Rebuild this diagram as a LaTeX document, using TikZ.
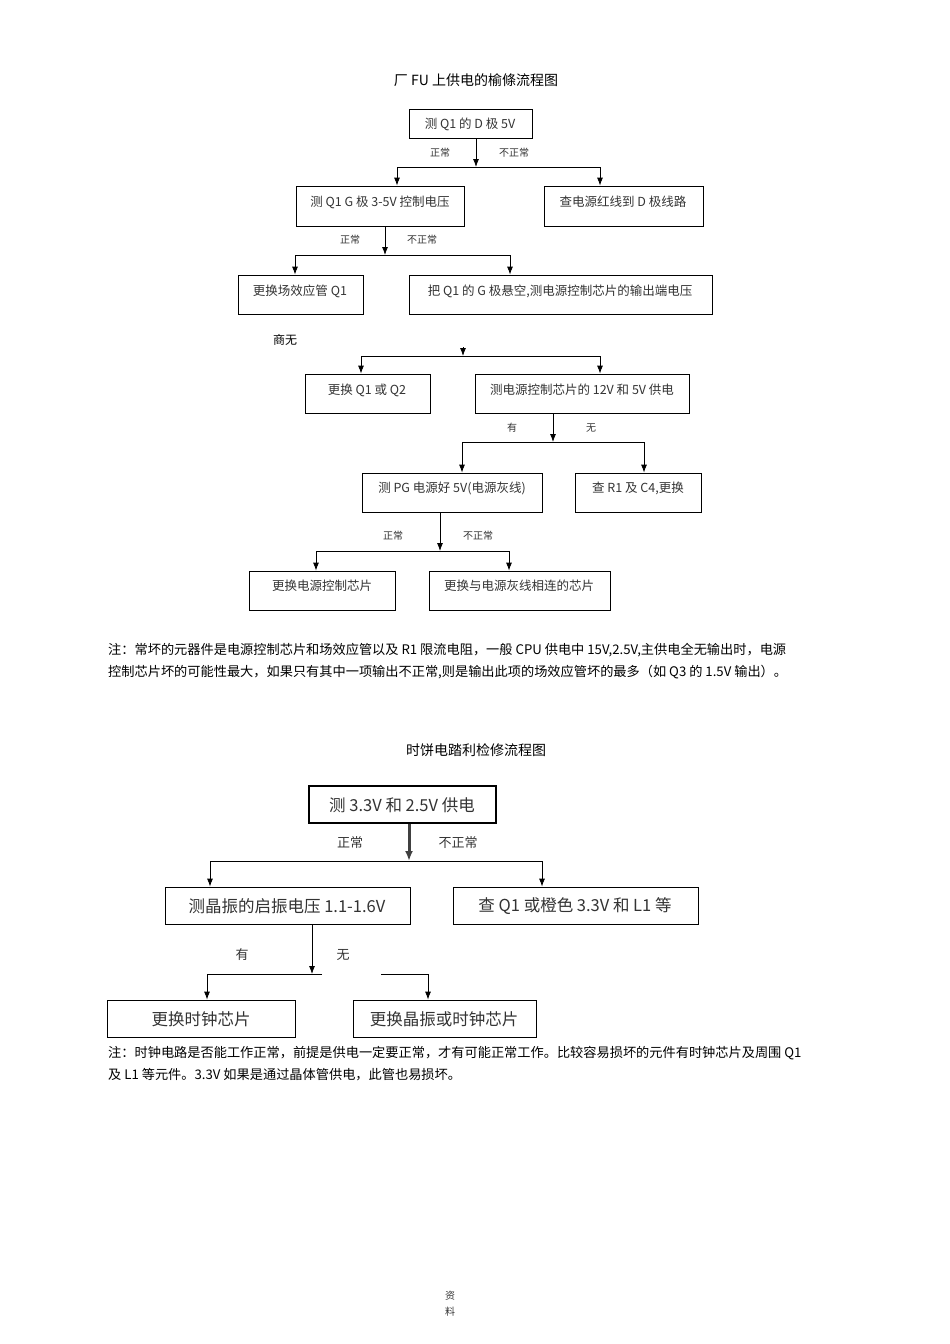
\documentclass[tikz,border=0pt]{standalone}
\usepackage{fontspec}
\usetikzlibrary{arrows.meta}
\setmainfont{Liberation Serif}
\newfontfamily\cjk{Noto Sans CJK SC}
\begin{document}
\begin{tikzpicture}[x=1pt,y=-1pt,
 bx/.style={draw,line width=0.8pt,inner sep=0pt,font=\cjk\fontsize{12.5}{12.5}\selectfont\color{black!80}},
 bxb/.style={draw,line width=1.2pt,inner sep=0pt,font=\cjk\fontsize{16.5}{16.5}\selectfont\color{black!80}},
 lab/.style={font=\cjk\fontsize{10}{10}\selectfont\color{black!80}},
 labb/.style={font=\cjk\fontsize{13}{13}\selectfont\color{black!80}},
 ar/.style={-{Latex[length=8pt,width=6pt]},line width=0.8pt},
 note/.style={anchor=west,font=\cjk\fontsize{13.2}{13.2}\selectfont,inner sep=0pt}]
\useasboundingbox (0,0) rectangle (950,1344);
\newcommand{\bxn}[6]{\node[#1,minimum width=#4-#3,minimum height=#6-#5] (#2) at ({(#3+#4)/2},{(#5+#6)/2}) {};}
% top chart
\node[font=\cjk\fontsize{14}{14}\selectfont] (t1) at (476,80) {厂 FU 上供电的榆條流程图};
\bxn{bx}{b1}{409}{532}{109}{138} \node[bx,draw=none] at (470,124) {测 Q1 的 D 极 5V};
\bxn{bx}{b2}{296}{464}{186}{226} \node[bx,draw=none] at (380,202) {测 Q1 G 极 3-5V 控制电压};
\bxn{bx}{b3}{544}{703}{186}{226} \node[bx,draw=none] at (623,202) {查电源红线到 D 极线路};
\bxn{bx}{b4}{238}{363}{275}{314} \node[bx,draw=none] at (300,291) {更换场效应管 Q1};
\bxn{bx}{b5}{409}{712}{275}{314} \node[bx,draw=none] at (560,291) {把 Q1 的 G 极悬空,测电源控制芯片的输出端电压};
\node[lab,font=\cjk\fontsize{12}{12}\selectfont] (sw) at (285,340) {商无};
\bxn{bx}{b6}{305}{430}{374}{413} \node[bx,draw=none] at (367,390) {更换 Q1 或 Q2};
\bxn{bx}{b7}{475}{689}{374}{413} \node[bx,draw=none] at (582,390) {测电源控制芯片的 12V 和 5V 供电};
\bxn{bx}{b8}{362}{542}{473}{512} \node[bx,draw=none] at (452,488) {测 PG 电源好 5V(电源灰线)};
\bxn{bx}{b9}{575}{701}{473}{512} \node[bx,draw=none] at (638,488) {查 R1 及 C4,更换};
\bxn{bx}{b10}{249}{395}{571}{610} \node[bx,draw=none] at (322,586) {更换电源控制芯片};
\bxn{bx}{b11}{429}{610}{571}{610} \node[bx,draw=none] at (519,586) {更换与电源灰线相连的芯片};
% connectors top
\coordinate (j1) at (476,167);
\draw[ar] (b1.south -| j1) -- (j1);
\draw[ar] (j1) -- (397,167) -- (397,167 |- b2.north);
\draw[ar] (j1) -- (600,167) -- (600,167 |- b3.north);
\node[lab] at (440,153) {正常}; \node[lab] at (514,153) {不正常};
\coordinate (j2) at (385,255);
\draw[ar] (b2.south -| j2) -- (j2);
\draw[ar] (j2) -- (295,255) -- (295,255 |- b4.north);
\draw[ar] (j2) -- (510,255) -- (510,255 |- b5.north);
\node[lab] at (350,240) {正常}; \node[lab] at (422,240) {不正常};
\coordinate (j3) at (463,356);
\draw[ar] (463,347) -- (j3);
\draw[ar] (j3) -- (361,356) -- (361,356 |- b6.north);
\draw[ar] (j3) -- (600,356) -- (600,356 |- b7.north);
\coordinate (j4) at (553,442);
\draw[ar] (b7.south -| j4) -- (j4);
\draw[ar] (j4) -- (462,442) -- (462,442 |- b8.north);
\draw[ar] (j4) -- (644,442) -- (644,442 |- b9.north);
\node[lab] at (512,428) {有}; \node[lab] at (591,428) {无};
\coordinate (j5) at (440,551);
\draw[ar] (b8.south -| j5) -- (j5);
\draw[ar] (j5) -- (316,551) -- (316,551 |- b10.north);
\draw[ar] (j5) -- (509,551) -- (509,551 |- b11.north);
\node[lab] at (393,536) {正常}; \node[lab] at (478,536) {不正常};
\node[note] (n1) at (108,650) {注：常坏的元器件是电源控制芯片和场效应管以及 R1 限流电阻，一般 CPU 供电中 15V,2.5V,主供电全无输出时，电源};
\node[note] (n2) at (108,672) {控制芯片坏的可能性最大，如果只有其中一项输出不正常,则是输出此项的场效应管坏的最多（如 Q3 的 1.5V 输出）。};
% bottom chart
\node[font=\cjk\fontsize{14}{14}\selectfont] (t2) at (476,750) {时饼电踏利检修流程图};
\bxn{bxb}{c1}{309}{496}{786}{823} \node[bxb,draw=none] at (402,805) {测 3.3V 和 2.5V 供电};
\bxn{bx}{c2}{165}{410}{887}{924} \node[bxb,draw=none] at (287,906) {测晶振的启振电压 1.1-1.6V};
\bxn{bx}{c3}{453}{698}{887}{924} \node[bxb,draw=none] at (575,906) {查 Q1 或橙色 3.3V 和 L1 等};
\bxn{bx}{c4}{107}{295}{1000}{1037} \node[bxb,draw=none] at (201,1019) {更换时钟芯片};
\bxn{bx}{c5}{353}{536}{1000}{1037} \node[bxb,draw=none] at (444,1019) {更换晶振或时钟芯片};
\coordinate (k1) at (409,861);
\draw[-{Latex[length=10pt,width=8pt]},line width=3pt,black!75] (c1.south -| k1) -- (k1);
\draw[ar] (k1) -- (210,861) -- (210,861 |- c2.north);
\draw[ar] (k1) -- (542,861) -- (542,861 |- c3.north);
\node[labb] at (350,843) {正常}; \node[labb] at (458,843) {不正常};
\coordinate (k2) at (312,974);
\draw[ar] (c2.south -| k2) -- (k2);
\draw[ar] (322,974) -- (207,974) -- (207,974 |- c4.north);
\draw[ar] (381,974) -- (428,974) -- (428,974 |- c5.north);
\node[labb] at (242,955) {有}; \node[labb] at (343,955) {无};
\node[note] (n3) at (108,1053) {注：时钟电路是否能工作正常，前提是供电一定要正常，才有可能正常工作。比较容易损坏的元件有时钟芯片及周围 Q1};
\node[note] (n4) at (108,1075) {及 L1 等元件。3.3V 如果是通过晶体管供电，此管也易损坏。};
\node[lab] (f1) at (450,1296) {资};
\node[lab] (f2) at (450,1312) {料};
\end{tikzpicture}
\end{document}
